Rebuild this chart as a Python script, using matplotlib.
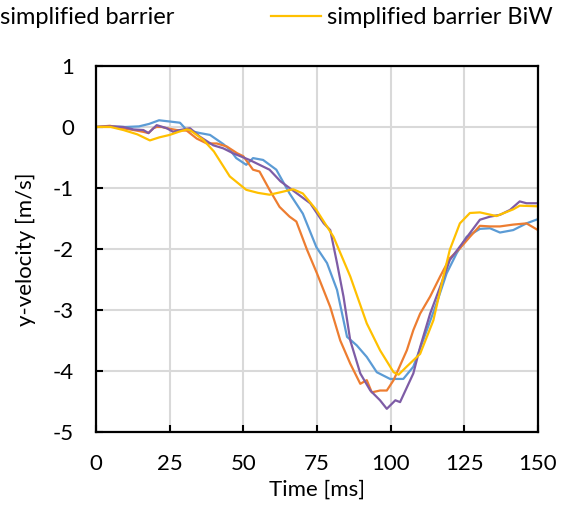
import matplotlib.pyplot as plt
from matplotlib.lines import Line2D

plt.rcParams['font.family'] = ['Lato', 'DejaVu Sans']
plt.rcParams['axes.unicode_minus'] = False

# blue series
t_blue = [0, 5, 10, 14.6, 18, 21.4, 25, 28.5, 30.8, 35.3, 38.7, 43.2, 45.4, 47.6, 51, 53.3,
          56.7, 61.2, 65.7, 70.2, 74.8, 78.4, 81.8, 85.2, 88.5, 91.9, 95.3, 99.8, 104.3,
          107.7, 111, 115.6, 119, 122.4, 125.8, 130.3, 133.7, 137.1, 141.6, 146.1, 150]
v_blue = [0, 0.01, 0.0, 0.01, 0.05, 0.11, 0.09, 0.07, -0.05, -0.1, -0.13, -0.28, -0.37, -0.51,
          -0.62, -0.51, -0.54, -0.70, -1.09, -1.42, -1.97, -2.23, -2.67, -3.44, -3.58, -3.77,
          -4.02, -4.13, -4.13, -3.93, -3.5, -2.89, -2.4, -2.07, -1.80, -1.67, -1.66, -1.73,
          -1.69, -1.58, -1.51]

# orange series
t_orange = [0, 4.7, 9, 12.7, 16.1, 17.8, 19.5, 20.6, 22.3, 24, 27.4, 30.8, 34.2, 37.6, 41,
            44.4, 47.9, 50, 53.3, 55.5, 58.9, 62.3, 65.7, 68, 71.6, 75, 79.5, 82.9, 86.3,
            89.7, 91.9, 93.6, 96.4, 98.7, 101, 103.2, 105.5, 107.7, 110, 113.4, 116.8,
            120.1, 123.5, 126.9, 130.3, 133.7, 137.1, 141.6, 146.1, 150]
v_orange = [0, 0.02, -0.02, -0.05, -0.08, -0.1, -0.02, 0, 0, -0.02, -0.05, -0.06, -0.19, -0.27,
            -0.27, -0.32, -0.43, -0.48, -0.70, -0.73, -1.03, -1.31, -1.47, -1.55, -2.01,
            -2.4, -2.95, -3.5, -3.88, -4.21, -4.15, -4.35, -4.32, -4.32, -4.15, -3.91, -3.66,
            -3.33, -3.06, -2.78, -2.45, -2.15, -1.99, -1.80, -1.62, -1.63, -1.63, -1.60,
            -1.58, -1.69]

# purple series
t_purple = [0, 5, 9.3, 12.7, 16.1, 17.8, 20.6, 24, 26.2, 28.5, 31.9, 35.3, 39.8, 43.2, 46.5,
            52.1, 58.9, 62.6, 67.1, 72.7, 77.3, 79.5, 81.8, 84, 86.3, 89.7, 93.1, 96.4, 98.7,
            101.6, 103.2, 105.5, 107.7, 110, 113.4, 116.8, 120.1, 123.5, 126.9, 130.3,
            133.7, 137.1, 140.5, 143.8, 146.1, 150]
v_purple = [0, 0.01, 0.0, -0.04, -0.05, -0.1, 0.03, -0.02, -0.08, -0.05, -0.02, -0.16, -0.3,
            -0.35, -0.43, -0.54, -0.70, -0.89, -1.05, -1.25, -1.58, -1.69, -2.23, -2.78, -3.5,
            -4.04, -4.32, -4.48, -4.62, -4.48, -4.51, -4.27, -4.04, -3.61, -3.06, -2.62,
            -2.18, -1.96, -1.74, -1.52, -1.47, -1.44, -1.36, -1.22, -1.25, -1.25]

# yellow series
t_yellow = [0, 5, 9.3, 14, 18.3, 21.5, 25, 28, 30.8, 31.9, 36.4, 40, 45.4, 51, 55, 58.9, 62.6,
            66.9, 70.2, 74.8, 79.3, 80.6, 86.3, 91.9, 96.4, 101, 102.7, 105.4, 110, 114.5,
            117.9, 120.1, 123.5, 126.9, 130.3, 135.9, 141.6, 143.8, 150]
v_yellow = [0, 0, -0.05, -0.12, -0.22, -0.17, -0.13, -0.08, -0.04, -0.05, -0.21, -0.4, -0.81,
            -1.03, -1.08, -1.11, -1.07, -1.02, -1.09, -1.36, -1.70, -1.8, -2.45, -3.22, -3.66,
            -4.02, -4.06, -3.93, -3.72, -3.17, -2.45, -2.01, -1.58, -1.41, -1.40, -1.46, -1.35,
            -1.29, -1.30]

x_ticks = [0, 25, 50, 75, 100, 125, 150]
y_ticks = [1, 0, -1, -2, -3, -4, -5]

fig = plt.figure(figsize=(5.7, 5.08), dpi=100)
ax = fig.add_axes([0.1684, 0.1496, 0.7754, 0.7205])

lw = 1.6
ax.plot(t_blue, v_blue, color='#5B9BD5', lw=lw)
ax.plot(t_orange, v_orange, color='#ED7D31', lw=lw)
ax.plot(t_purple, v_purple, color='#7E5CA6', lw=lw)
ax.plot(t_yellow, v_yellow, color='#FFC000', lw=lw)

ax.set_xlim(0, 150)
ax.set_ylim(-5, 1)
ax.set_xticks(x_ticks)
ax.set_yticks(y_ticks)
ax.grid(True, color='#d9d9d9', lw=1.5)
ax.set_axisbelow(True)
for s in ax.spines.values():
    s.set_linewidth(1.6)
    s.set_color('black')
ax.tick_params(direction='in', length=5, width=1.5, labelsize=16, pad=16,
               top=False, right=False)
ax.set_xlabel('Time [ms]', fontsize=16, labelpad=4)
ax.set_ylabel('y-velocity [m/s]', fontsize=16, labelpad=12)

# legend, top row cut off by the figure edge
handles = [Line2D([], [], color='#7E5CA6', lw=lw), Line2D([], [], color='#FFC000', lw=lw)]
fig.legend(handles, ['simplified barrier', 'simplified barrier BiW'], ncol=2,
           loc='center left', bbox_to_anchor=(-0.135, 0.965), frameon=False,
           fontsize=17, handlelength=2.12, handletextpad=0.25, columnspacing=4.1)

fig.savefig('out.png', dpi=100)
